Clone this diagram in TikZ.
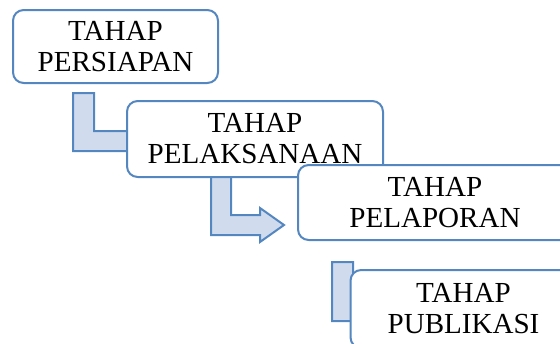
\documentclass[tikz,border=0pt]{standalone}
\usepackage{fontspec}
\setmainfont{Liberation Serif}
\usetikzlibrary{calc,backgrounds}

\definecolor{stepblue}{RGB}{84,134,192}
\definecolor{stepfill}{RGB}{208,220,238}

\tikzset{every picture/.style={line width=0.75pt}}
\tikzset{
  boxsize/.style 2 args={minimum width=#1*0.75pt, minimum height=#2*0.75pt},
  stagebox/.style={draw=stepblue, line width=1.5pt, fill=white, rounded corners=8pt,
    align=center, inner sep=0pt, font=\fontsize{21.8}{23.3}\selectfont},
  bentarrow/.style={draw=stepblue, line width=1.5pt, fill=stepfill, line join=miter},
}

\begin{document}
\begin{tikzpicture}[x=0.75pt,y=0.75pt,yscale=-1,xscale=1]
\useasboundingbox (0,0) rectangle (560,343);
\clip (0,0) rectangle (560,343);

% Text Node
\node[stagebox, boxsize={205}{73}] (persiapan) at (115.5,46.5) {TAHAP\\PERSIAPAN};
% Text Node
\node[stagebox, boxsize={256}{76}] (pelaksanaan) at (255,139) {TAHAP\\PELAKSANAAN};
% Text Node
\node[stagebox, boxsize={274}{75}] (pelaporan) at (435,202.5) {TAHAP\\PELAPORAN};
% Text Node
\node[stagebox, boxsize={226}{78}] (publikasi) at (463.5,309) {TAHAP\\PUBLIKASI};

\begin{scope}[on background layer]
%Bent Arrow 1
\draw[bentarrow] ($(persiapan.south west)+(61,9)$) -- ++(21,0) -- ++(0,38) -- ++(34,0)
  -- ++(0,-7) -- ++(26,17) -- ++(-26,17) -- ++(0,-7) -- ++(-55,0) -- cycle;
%Bent Arrow 2
\draw[bentarrow] ($(pelaksanaan.south west)+(85,-7)$) -- ++(20,0) -- ++(0,44) -- ++(29,0)
  -- ++(0,-7) -- ++(24,17) -- ++(-24,17) -- ++(0,-7) -- ++(-49,0) -- cycle;
%Bent Arrow 3
\draw[bentarrow] ($(pelaporan.south west)+(35,21)$) -- ++(21,0) -- ++(0,39) -- ++(29,0)
  -- ++(0,-7) -- ++(24,17) -- ++(-24,17) -- ++(0,-7) -- ++(-50,0) -- cycle;
\end{scope}

\end{tikzpicture}
\end{document}
